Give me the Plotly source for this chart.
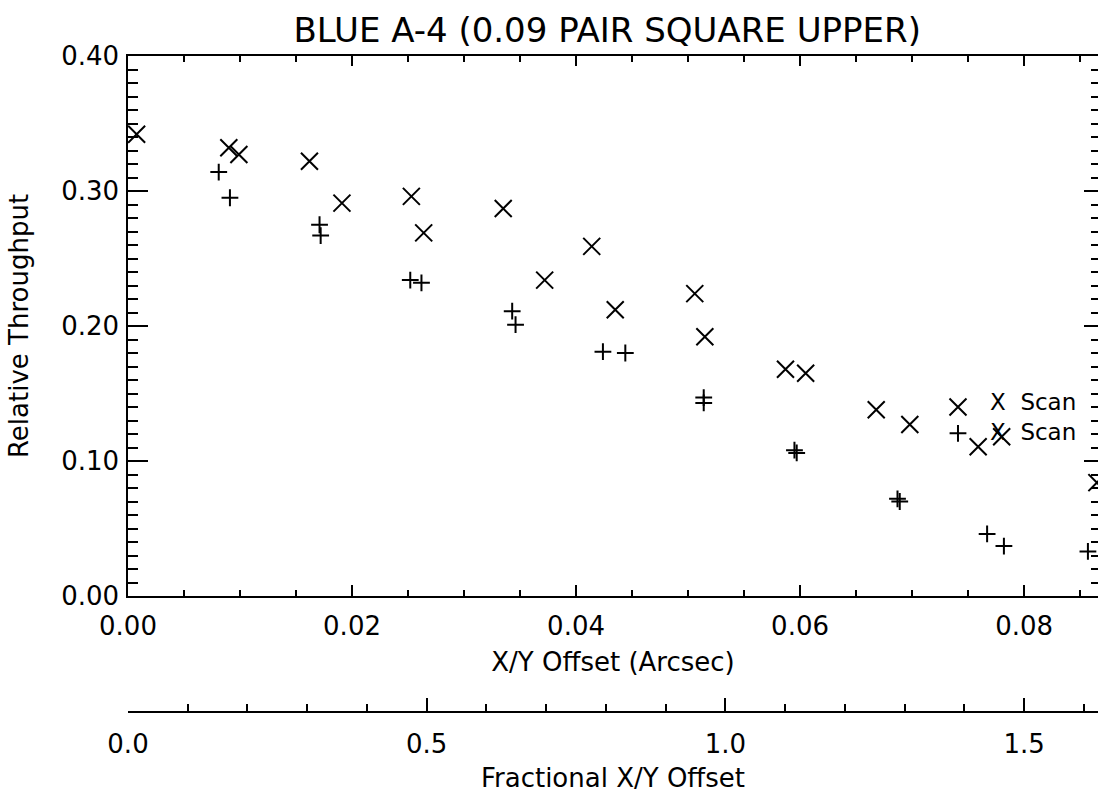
import plotly.graph_objects as go

# ---- data ----
# "X" markers
x_scan_offset = [0.00077, 0.0090, 0.0099, 0.0162, 0.0191, 0.0253, 0.0264, 0.0335,
                 0.0372, 0.0414, 0.0435, 0.0506, 0.0515, 0.0587, 0.0605, 0.0668,
                 0.0698, 0.0741, 0.0759, 0.0780, 0.0865]
x_scan_tp = [0.342, 0.332, 0.327, 0.322, 0.291, 0.296, 0.269, 0.287,
             0.234, 0.259, 0.212, 0.224, 0.192, 0.168, 0.165, 0.138,
             0.127, 0.140, 0.1106, 0.118, 0.084]

# "+" markers
y_scan_offset = [0.0081, 0.0091, 0.0171, 0.0172, 0.0252, 0.0262, 0.0343, 0.0346,
                 0.0424, 0.0444, 0.0514, 0.0514, 0.0595, 0.0597, 0.0687, 0.0689,
                 0.0741, 0.0767, 0.0782, 0.0857]
y_scan_tp = [0.314, 0.295, 0.275, 0.267, 0.234, 0.232, 0.211, 0.201,
             0.181, 0.180, 0.147, 0.143, 0.108, 0.106, 0.072, 0.070,
             0.1205, 0.046, 0.037, 0.033]

legend_labels = ["X  Scan", "X  Scan"]

TITLE = "BLUE A-4 (0.09 PAIR SQUARE UPPER)"
X_TITLE = "X/Y Offset (Arcsec)"
X2_TITLE = "Fractional X/Y Offset"
Y_TITLE = "Relative Throughput"

X_MAX = 0.0866
Y_MAX = 0.40
FRAC_PER_ARCSEC = 1.5 / 0.08

FONT = "DejaVu Sans"
BLACK = "black"
TICK_SIZE = 26
AX_TITLE_SIZE = 26

fig = go.Figure()
fig.add_trace(go.Scatter(
    x=x_scan_offset, y=x_scan_tp, mode="markers", name="X Scan",
    marker=dict(symbol="x-thin-open", size=17, color=BLACK,
                line=dict(width=2, color=BLACK)),
    showlegend=False, cliponaxis=True))
fig.add_trace(go.Scatter(
    x=y_scan_offset, y=y_scan_tp, mode="markers", name="Scan",
    marker=dict(symbol="cross-thin-open", size=12, color=BLACK,
                line=dict(width=2, color=BLACK)),
    showlegend=False, cliponaxis=True))
# empty traces that only create the extra axes (fractional axis, top and right ticks)
fig.add_trace(go.Scatter(x=[], y=[], xaxis="x2", yaxis="y", showlegend=False, hoverinfo="skip"))
fig.add_trace(go.Scatter(x=[], y=[], xaxis="x3", yaxis="y", showlegend=False, hoverinfo="skip"))
fig.add_trace(go.Scatter(x=[], y=[], xaxis="x", yaxis="y2", showlegend=False, hoverinfo="skip"))

common = dict(showgrid=False, zeroline=False, linecolor=BLACK,
              linewidth=1.5, ticks="inside", tickcolor=BLACK, tickwidth=1.5,
              tickfont=dict(family=FONT, size=TICK_SIZE, color=BLACK),
              automargin=False)

fig.update_layout(
    width=1098, height=797,
    margin=dict(l=128, r=0, t=56, b=85),
    paper_bgcolor="white", plot_bgcolor="white",
    font=dict(family=FONT, color=BLACK),
    title=dict(text=TITLE, x=0.494, xref="paper", xanchor="center",
               y=1 - 30 / 797, yref="container", yanchor="middle",
               font=dict(family=FONT, size=34, color=BLACK)),
    xaxis=dict(range=[0, X_MAX], tick0=0, dtick=0.02, tickformat=".2f",
               ticklen=11, showline=True, mirror=True, anchor="y",
               ticklabelstandoff=6,
               minor=dict(dtick=0.005, ticks="inside", ticklen=6,
                          tickcolor=BLACK, tickwidth=1.5),
               title=dict(text=X_TITLE, standoff=13,
                          font=dict(family=FONT, size=AX_TITLE_SIZE, color=BLACK)),
               **common),
    yaxis=dict(domain=[116 / 656, 1], range=[0, Y_MAX], tick0=0, dtick=0.1,
               tickformat=".2f", ticklen=20, showline=True, mirror=True,
               ticklabelstandoff=2,
               minor=dict(dtick=0.01, ticks="inside", ticklen=10,
                          tickcolor=BLACK, tickwidth=1.5),
               title=dict(text=Y_TITLE, standoff=25,
                          font=dict(family=FONT, size=AX_TITLE_SIZE, color=BLACK)),
               **common),
    xaxis2=dict(range=[0, X_MAX * FRAC_PER_ARCSEC], overlaying="x",
                anchor="free", position=0, side="bottom", tick0=0, dtick=0.5,
                tickformat=".1f", ticklen=13, showline=True, ticklabelstandoff=9,
                minor=dict(dtick=0.1, ticks="inside", ticklen=7,
                           tickcolor=BLACK, tickwidth=1.5),
                title=dict(text=X2_TITLE, standoff=10,
                           font=dict(family=FONT, size=AX_TITLE_SIZE, color=BLACK)),
                **common),
    xaxis3=dict(range=[0, X_MAX], overlaying="x", anchor="y", side="top",
                tick0=0, dtick=0.02, ticklen=10, showline=False,
                showticklabels=False,
                minor=dict(dtick=0.005, ticks="inside", ticklen=6,
                           tickcolor=BLACK, tickwidth=1.5),
                **common),
    yaxis2=dict(range=[0, Y_MAX], overlaying="y", anchor="x", side="right",
                tick0=0, dtick=0.1, ticklen=14, showline=False,
                showticklabels=False,
                minor=dict(dtick=0.01, ticks="inside", ticklen=7,
                           tickcolor=BLACK, tickwidth=1.5),
                **common),
)

# two-line legend text (one annotation so the lines do not collide)
fig.add_annotation(text="<br>".join(legend_labels), xref="x domain", yref="y domain",
                   x=0.887, y=0.331, xanchor="left", yanchor="middle",
                   align="left", showarrow=False,
                   font=dict(family=FONT, size=23, color=BLACK))

fig.write_html("out.html",
               config={"displayModeBar": False},
               post_script="document.body.style.margin='0';"
                           "document.body.style.overflow='hidden';")
